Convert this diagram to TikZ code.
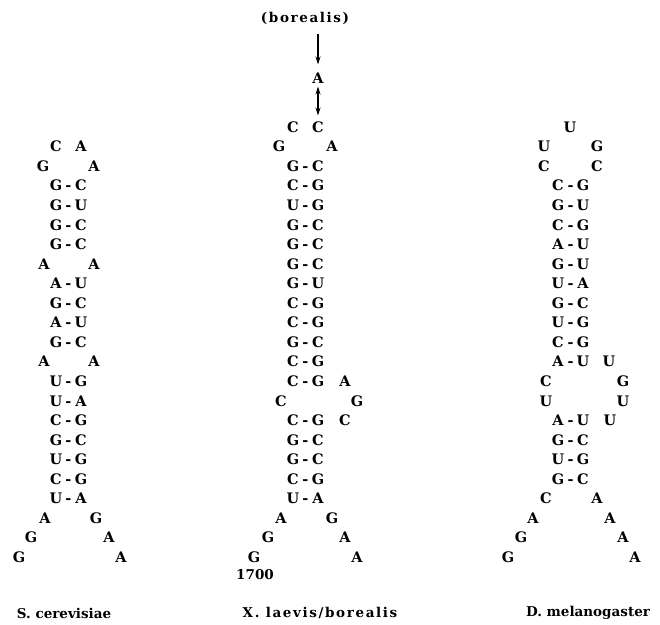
\documentclass[tikz,border=0pt]{standalone}
\usepackage{fontspec}
\setmainfont{DejaVu Serif}
\newfontfamily\widecap[LetterSpace=12]{DejaVu Serif}
\usetikzlibrary{arrows.meta,calc}
% Base-paired stems: #1 prefix, #2 left column, #3 right column, #4 list row/left/right
\newcommand\bpairs[4]{%
  \foreach \r/\a/\b in {#4} {
    \node[base] (#1-\r-l) at (#2,{127+19.55*\r}) {\a};
    \node[base] (#1-\r-r) at (#3,{127+19.55*\r}) {\b};
    \node[base] (#1-\r-d) at ($(#1-\r-l)!.5!(#1-\r-r)$) {-};
  }}
% Unpaired bases: #1 prefix, #2 list row/x/letter
\newcommand\singles[2]{%
  \foreach \r/\x/\c in {#2}
    \node[base] (#1-\r-\x) at (\x,{127+19.55*\r}) {\c};}
\begin{document}
\begin{tikzpicture}[x=1pt,y=-1pt,
  base/.style={inner sep=0pt, font=\bfseries\fontsize{14.5}{14.5}\selectfont,
    text height=10.6pt, text depth=0pt},
  caption/.style={inner sep=0pt, font=\bfseries\fontsize{13.5}{13.5}\selectfont},
  widecaption/.style={inner sep=0pt, font=\widecap\bfseries\fontsize{13.5}{13.5}\selectfont},
  arr/.style={line width=1.1pt, -{Stealth[length=8pt,width=5pt]}},
  dblarr/.style={line width=1.1pt, {Stealth[length=8pt,width=5pt]}-{Stealth[length=8pt,width=5pt]}}
]
\useasboundingbox (0,0) rectangle (660,624);

% S. cerevisiae
\bpairs{sc}{56}{81}{3/G/C,4/G/U,5/G/C,6/G/C,8/A/U,9/G/C,10/A/U,11/G/C,
  13/U/G,14/U/A,15/C/G,16/G/C,17/U/G,18/C/G,19/U/A}
\singles{sc}{1/56/C,1/81/A,2/43/G,2/94/A,7/44/A,7/94/A,12/44/A,12/94/A,
  20/45/A,20/96/G,21/31/G,21/109/A,22/19/G,22/121/A}
\node[caption] (sclab) at (64,613) {S. cerevisiae};

% X. laevis / borealis
\bpairs{xl}{293}{318}{2/G/C,3/C/G,4/U/G,5/G/C,6/G/C,7/G/C,8/G/U,9/C/G,
  10/C/G,11/G/C,12/C/G,13/C/G,15/C/G,16/G/C,17/G/C,18/C/G,19/U/A}
\singles{xl}{0/293/C,0/318/C,1/279/G,1/332/A,13/345/A,14/281/C,14/357/G,
  15/345/C,20/281/A,20/332/G,21/268/G,21/345/A,22/254/G,22/357/A}
\node[base] (xA) at (318,78) {A};
\node[widecaption] (bor) at (305,18) {(borealis)};
\node[caption] (pos) at (255,575) {1700};
\node[widecaption] (xllab) at (320,613) {X. laevis/borealis};
\coordinate (arrtop) at ($(xA.north |- bor.south)+(0,10)$);
\draw[arr] (arrtop) -- ([yshift=8pt]xA.north);
\draw[dblarr] ([yshift=-3pt]xA.south) -- ([yshift=6pt]xl-0-318.north);

% D. melanogaster
\bpairs{dm}{558}{583}{3/C/G,4/G/U,5/C/G,6/A/U,7/G/U,8/U/A,9/G/C,10/U/G,
  11/C/G,12/A/U,15/A/U,16/G/C,17/U/G,18/G/C}
\singles{dm}{0/570/U,1/544/U,1/597/G,2/544/C,2/597/C,12/609/U,13/546/C,
  13/623/G,14/546/U,14/623/U,15/610/U,19/546/C,19/597/A,20/533/A,20/610/A,
  21/521/G,21/623/A,22/508/G,22/635/A}
\node[caption] (dmlab) at (588,613) {D. melanogaster};
\end{tikzpicture}
\end{document}
